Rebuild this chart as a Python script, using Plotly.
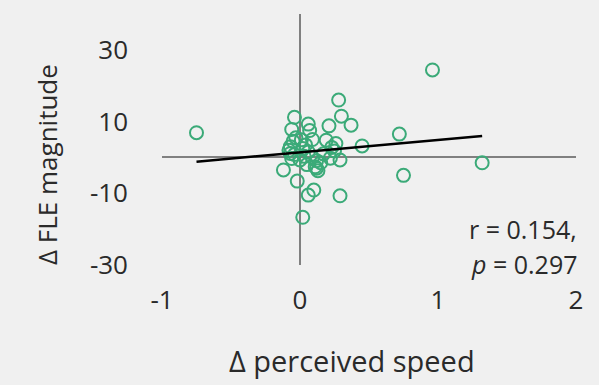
import numpy as np
import plotly.graph_objects as go

# Data
speed_delta = [-0.75, 0.28, 0.30, -0.04, 0.06, 0.21, -0.06, 0.07, 0.37, -0.05,
               0.01, 0.19, 0.26, 0.45, -0.07, 0.04, 0.23, -0.06, 0.00, 0.12,
               0.29, -0.12, 0.11, 0.13, -0.02, 0.10, 0.06, 0.29, 0.02, 0.96,
               0.72, 1.32, 0.75, -0.07, -0.08, 0.02, 0.06, -0.04, 0.03, 0.09,
               0.17, 0.22, 0.25, 0.15, 0.05, -0.03, 0.09, 0.12]
fle_delta = [6.9, 16.0, 11.5, 11.2, 9.3, 8.8, 7.8, 7.5, 9.0, 4.5,
             4.9, 4.8, 3.9, 3.2, 3.0, 3.5, 2.8, -0.3, -0.7, -0.9,
             -0.7, -3.5, -2.6, -3.7, -6.6, -9.1, -10.5, -10.7, -16.7, 24.4,
             6.5, -1.5, -5.0, 1.1, 2.0, 2.5, 1.5, 0.8, 0.3, 0.0,
             1.0, -0.2, 1.8, -1.5, -2.0, 5.5, 5.0, -3.0]

trend_slope = 3.46
trend_intercept = 1.4

x_ticks = [-1, 0, 1, 2]
y_ticks = [-30, -10, 10, 30]

stat_r = "0.154"
stat_p = "0.297"

green = "#3BAA78"
font_family = "Open Sans, Noto Sans, sans-serif"
text_color = "#2a2a2a"
bg = "#F0F0F0"

trend_x = np.array([min(speed_delta), max(speed_delta)])
trend_y = trend_intercept + trend_slope * trend_x

fig = go.Figure()
fig.add_trace(go.Scatter(
    x=speed_delta, y=fle_delta, mode="markers",
    marker=dict(symbol="circle-open", size=13, color=green, line=dict(width=2)),
    showlegend=False, hoverinfo="skip"))
fig.add_trace(go.Scatter(
    x=trend_x, y=trend_y, mode="lines",
    line=dict(color="black", width=2.5),
    showlegend=False, hoverinfo="skip"))

fig.update_layout(
    width=599, height=385,
    margin=dict(l=162, r=23, t=14, b=120),
    paper_bgcolor=bg, plot_bgcolor=bg,
    font=dict(family=font_family, color=text_color, size=26),
    xaxis=dict(range=[-1, 2], tickvals=x_ticks, ticktext=[str(v) for v in x_ticks],
               showgrid=False, showline=False, ticks="",
               zeroline=True, zerolinecolor="#808080", zerolinewidth=2,
               ticklabelstandoff=17, tickfont=dict(size=26)),
    yaxis=dict(range=[-30, 40], tickvals=y_ticks, ticktext=[str(v) for v in y_ticks],
               showgrid=False, showline=False, ticks="",
               zeroline=True, zerolinecolor="#808080", zerolinewidth=2,
               ticklabelstandoff=33, tickfont=dict(size=26)),
)

fig.add_annotation(text="Δ perceived speed", xref="paper", yref="paper",
                   x=(352 - 162) / 414, y=-(360 - 265) / 251,
                   xanchor="center", yanchor="middle", showarrow=False,
                   font=dict(size=29, color=text_color, family=font_family))
fig.add_annotation(text="Δ FLE magnitude", xref="paper", yref="paper",
                   x=-(162 - 47) / 414, y=(265 - 165) / 251, textangle=-90,
                   xanchor="center", yanchor="middle", showarrow=False,
                   font=dict(size=26, color=text_color, family=font_family))
fig.add_annotation(text=f"r = {stat_r},",
                   xref="paper", yref="paper",
                   x=(579 - 162) / 414, y=(265 - 229) / 251,
                   xanchor="right", yanchor="middle", showarrow=False,
                   font=dict(size=25, color=text_color, family=font_family))
fig.add_annotation(text=f"<i>p</i> = {stat_p}",
                   xref="paper", yref="paper",
                   x=(579 - 162) / 414, y=(265 - 264) / 251,
                   xanchor="right", yanchor="middle", showarrow=False,
                   font=dict(size=25, color=text_color, family=font_family))

fig.write_html("out.html")
